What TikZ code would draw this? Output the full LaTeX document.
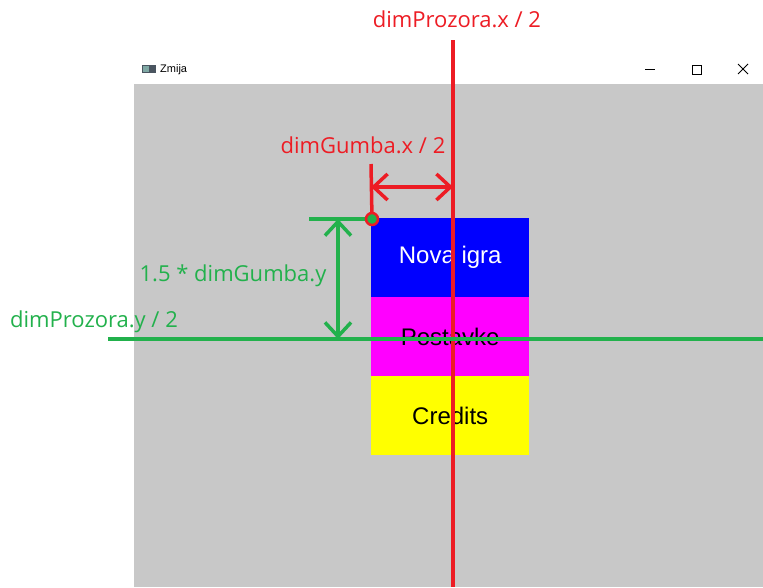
\documentclass[tikz,border=0pt]{standalone}
\usepackage{fontspec}
\setmainfont{Liberation Sans}
\newfontfamily\labelfont{Open Sans}
\usetikzlibrary{arrows.meta}
\definecolor{wingray}{HTML}{C8C8C8}
\definecolor{annred}{HTML}{ED1C24}
\definecolor{anngreen}{HTML}{22B14C}
\definecolor{btnblue}{HTML}{0000FF}
\definecolor{btnmagenta}{HTML}{FF00FF}
\definecolor{btnyellow}{HTML}{FFFF00}
\definecolor{iconteal}{HTML}{7FA8A4}
\definecolor{icondark}{HTML}{4A5560}
\begin{document}
\begin{tikzpicture}[x=1pt,y=-1pt,
  btn/.style={draw=none,minimum width=158pt,minimum height=79pt,inner sep=0pt,font=\fontsize{24}{24}\selectfont},
  lbl/.style={font=\labelfont\fontsize{22}{22}\selectfont,anchor=base,inner sep=0pt},
  dimarrow/.style={line width=3.5pt,{Straight Barb[length=14pt,width=26pt,line width=3.5pt]}-{Straight Barb[length=14pt,width=26pt,line width=3.5pt]}},
  redline/.style={annred,line width=3.5pt},
  greenline/.style={anngreen,line width=3.5pt}]
\useasboundingbox (0,0) rectangle (763,587);
\fill[white] (0,0) rectangle (763,587);
% window client area
\fill[wingray] (134,84) rectangle (763,587);
% title bar
\node[anchor=west,inner sep=0pt,font=\fontsize{11}{11}\selectfont] (title) at (160,70) {Zmija};
\fill[icondark] (142,65) rectangle (156,73);
\fill[iconteal] (143,66) rectangle (149,72);
\draw[line width=0.8pt] (645,69) -- (655,69);
\draw[line width=0.8pt] (692,65) rectangle (701,74);
\draw[line width=0.8pt] (738,64) -- (748,74) (738,74) -- (748,64);
% buttons
\node[btn,fill=btnblue,text=white,anchor=north west] (nova) at (371,218) {Nova igra};
\node[btn,fill=btnmagenta,text=black,anchor=north west] (post) at (371,297) {Postavke};
\node[btn,fill=btnyellow,text=black,anchor=north west] (cred) at (371,376) {Credits};
% coordinates
\coordinate (rtop) at (453,40);
\coordinate (rbot) at (453,587);
\coordinate (rtick) at (371,164);
\coordinate (corner) at (372,219);
\coordinate (ra) at (371,187);
\coordinate (rb) at (453,187);
\coordinate (gtickL) at (309,219);
\coordinate (ga) at (338,219);
\coordinate (gb) at (338,339);
\coordinate (gL) at (108,339);
\coordinate (gR) at (763,339);
% red annotations
\draw[redline] (rtop) -- (rbot);
\draw[redline] (rtick) -- (corner);
\draw[dimarrow,annred] (ra) -- (rb);
\node[lbl,text=annred] (lx) at (457,27) {dimProzora.x / 2};
\node[lbl,text=annred] (lgx) at (363,153) {dimGumba.x / 2};
% green annotations
\draw[greenline] (gtickL) -- (corner);
\draw[dimarrow,anngreen] (ga) -- (gb);
\draw[greenline] (gL) -- (gR);
\node[lbl,text=anngreen] (lgy) at (233,281) {1.5 * dimGumba.y};
\node[lbl,text=anngreen] (ly) at (94,327) {dimProzora.y / 2};
% corner marker
\filldraw[fill=anngreen,draw=annred,line width=2.5pt] (corner) circle (6pt);
\end{tikzpicture}
\end{document}
